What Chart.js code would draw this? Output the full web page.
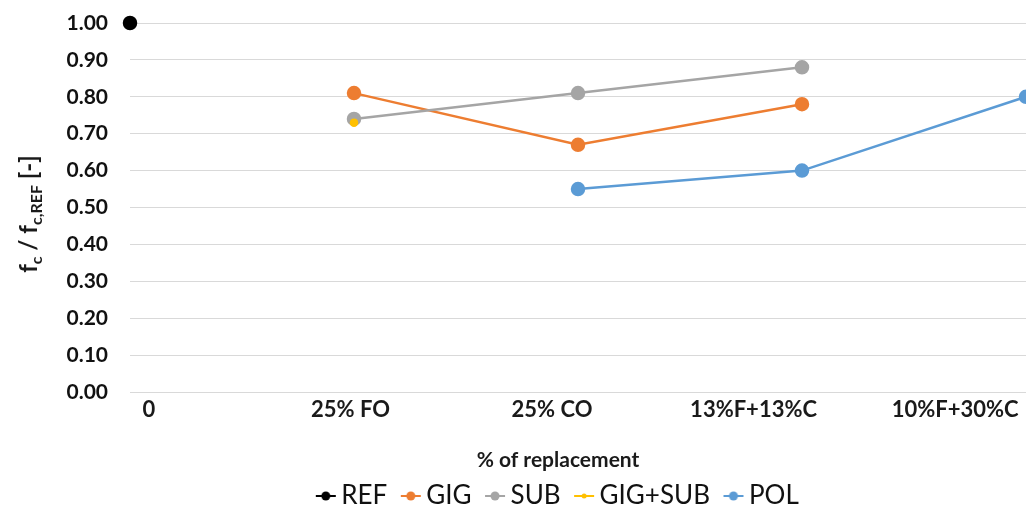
<!DOCTYPE html>
<html>
<head>
<meta charset="utf-8">
<script src="https://cdn.jsdelivr.net/npm/chart.js@4.4.1/dist/chart.umd.min.js"></script>
<style>
  html, body { margin: 0; padding: 0; background: #ffffff; overflow: hidden; }
  #wrap { width: 1116px; height: 519px; }
</style>
</head>
<body>
<div id="wrap"><canvas id="chart" width="1116" height="519"></canvas></div>
<script>
// Replacement levels on the x axis
const categories = ['0', '25% FO', '25% CO', '13%F+13%C', '10%F+30%C'];

// Relative compressive strength f_c / f_c,REF per mix family
const refValues    = [1.00, null, null, null, null];
const gigValues    = [null, 0.81, 0.67, 0.78, null];
const subValues    = [null, 0.74, 0.81, 0.88, null];
const gigSubValues = [null, 0.73, null, null, null];
const polValues    = [null, null, 0.55, 0.60, 0.80];

// Y axis ticks
const yTicks = [0, 0.1, 0.2, 0.3, 0.4, 0.5, 0.6, 0.7, 0.8, 0.9, 1.0];

const seriesNames = ['REF', 'GIG', 'SUB', 'GIG+SUB', 'POL'];
const seriesColors = ['#000000', '#ED7D31', '#A5A5A5', '#FFC000', '#5B9BD5'];

// small "line with dot" marker used in the legend
function legendMarker(color, dotRadius) {
  const c = document.createElement('canvas');
  c.width = 22; c.height = 14;
  const g = c.getContext('2d');
  g.strokeStyle = color;
  g.lineWidth = 2;
  g.beginPath(); g.moveTo(1, 7); g.lineTo(21, 7); g.stroke();
  g.fillStyle = color;
  g.beginPath(); g.arc(11, 7, dotRadius, 0, Math.PI * 2); g.fill();
  return c;
}

function series(i, values, radius) {
  return {
    label: seriesNames[i],
    data: values,
    borderColor: seriesColors[i],
    backgroundColor: seriesColors[i],
    pointBackgroundColor: seriesColors[i],
    pointBorderColor: seriesColors[i],
    pointRadius: radius,
    pointHoverRadius: radius,
    borderWidth: 2.5,
    tension: 0,
    spanGaps: false,
    clip: false,
    order: -i,
    pointStyle: 'circle',
    legendMarker: legendMarker(seriesColors[i], radius >= 5 ? 4.5 : 2.5)
  };
}

// axis titles, the y one carries subscripts
const axisTitles = {
  id: 'axisTitles',
  afterLayout(chart) {
    // let the y tick labels use the space left of the narrow y box
    const y = chart.scales.y;
    y.left = 0;
    y.width = y.right;
  },
  afterDraw(chart) {
    const ctx = chart.ctx;
    ctx.save();
    ctx.fillStyle = '#1a1a1a';
    // x title
    ctx.font = 'bold 21px Lato';
    ctx.textAlign = 'center';
    ctx.textBaseline = 'middle';
    ctx.fillText('% of replacement', 558, 460);
    // y title
    const parts = [
      ['f', false], ['c', true], [' / f', false], ['c,REF', true], [' [-]', false]
    ];
    const mainFont = 'bold 24px Lato';
    const subFont = 'bold 16px Lato';
    let total = 0;
    parts.forEach(p => { ctx.font = p[1] ? subFont : mainFont; total += ctx.measureText(p[0]).width; });
    ctx.translate(37, 214);
    ctx.rotate(-Math.PI / 2);
    ctx.textAlign = 'left';
    ctx.textBaseline = 'alphabetic';
    let x = -total / 2;
    parts.forEach(p => {
      ctx.font = p[1] ? subFont : mainFont;
      ctx.fillText(p[0], x, p[1] ? 5 : 0);
      x += ctx.measureText(p[0]).width;
    });
    ctx.restore();
  }
};

const datasets = [
  series(0, refValues, 6),
  series(1, gigValues, 6),
  series(2, subValues, 6),
  series(3, gigSubValues, 3),
  series(4, polValues, 6)
];

new Chart(document.getElementById('chart'), {
  type: 'line',
  data: { labels: categories, datasets: datasets },
  plugins: [axisTitles],
  options: {
    responsive: false,
    devicePixelRatio: 1,
    animation: false,
    layout: { autoPadding: false, padding: { left: 96, right: 90, top: 23, bottom: 0 } },
    plugins: {
      tooltip: { enabled: false },
      legend: {
        position: 'bottom',
        labels: {
          font: { family: 'Lato', size: 26 },
          color: '#111111',
          usePointStyle: true,
          pointStyleWidth: 5,
          padding: 21,
          sort: (a, b) => a.datasetIndex - b.datasetIndex,
          generateLabels(chart) {
            return chart.data.datasets.map((ds, i) => ({
              text: ds.label,
              fillStyle: ds.backgroundColor,
              strokeStyle: ds.borderColor,
              lineWidth: 0,
              pointStyle: ds.legendMarker,
              hidden: false,
              datasetIndex: i,
              fontColor: '#111111'
            }));
          }
        }
      }
    },
    scales: {
      x: {
        type: 'category',
        offset: false,
        display: false
      },
      xLabels: {
        type: 'linear',
        position: 'bottom',
        min: -0.0943,
        max: 4.352,
        grid: { display: false, drawTicks: false },
        border: { display: false },
        ticks: {
          stepSize: 1,
          includeBounds: false,
          autoSkip: false,
          maxRotation: 0,
          padding: 5,
          font: { family: 'Lato', size: 22, weight: 'bold' },
          color: '#1a1a1a',
          callback: (v) => (Number.isInteger(v) && categories[v] !== undefined ? categories[v] : '')
        },
        afterFit(scale) { scale.height = 70; }
      },
      y: {
        min: 0,
        max: 1,
        afterBuildTicks(scale) { scale.ticks = yTicks.map(v => ({ value: v })); },
        grid: { color: '#d9d9d9', lineWidth: 1, drawTicks: false },
        border: { display: false },
        ticks: {
          padding: 22,
          font: { family: 'Lato', size: 21, weight: 'bold' },
          color: '#111111',
          callback: (v) => v.toFixed(2)
        },
        afterFit(scale) {
          scale.width = 34;
          scale.paddingTop = 0;
          scale.paddingBottom = 0;
        }
      }
    }
  }
});
</script>
</body>
</html>
